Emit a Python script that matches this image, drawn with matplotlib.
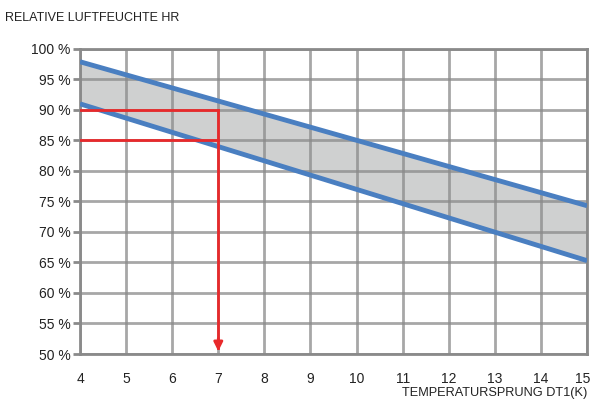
import matplotlib.pyplot as plt
import matplotlib.transforms as mtransforms
from matplotlib.patches import FancyArrowPatch
import numpy as np

# data
dt = [4, 15]
upper = [97.9, 74.3]
lower = [91.0, 65.3]
hr_marks = [90, 85]
dt_mark = 7
xticks = list(range(4, 16))
yticks = list(range(50, 101, 5))

plt.rcParams['font.family'] = ['Liberation Sans', 'DejaVu Sans']

fig = plt.figure(figsize=(5.9, 4.01), dpi=100)
ax = fig.add_axes([0.1356, 0.1172, 0.8594, 0.7608])

ax.fill_between(dt, lower, upper, color='#cfd0d0', zorder=1)
ax.grid(True, color='#8a8a8a', linewidth=2, alpha=0.75, zorder=2)
ax.set_axisbelow(False)

ax.plot(dt, upper, color='#4a7fc1', linewidth=3.5, zorder=4, solid_capstyle='butt')
ax.plot(dt, lower, color='#4a7fc1', linewidth=3.5, zorder=4, solid_capstyle='butt')

red = '#e8292b'
for v in hr_marks:
    ax.plot([dt[0], dt_mark], [v, v], color=red, linewidth=2, zorder=5)
ax.plot([dt_mark, dt_mark], [hr_marks[0], 51], color=red, linewidth=2, zorder=5)
ax.add_patch(FancyArrowPatch((dt_mark, 53), (dt_mark, 50), arrowstyle='-|>',
                             mutation_scale=13, color=red, linewidth=2, zorder=6))

ax.set_xlim(4, 15)
ax.set_ylim(50, 100)
ax.set_xticks(xticks)
ax.set_yticks(yticks)
ax.set_yticklabels([f'{v} %' for v in yticks])
ax.tick_params(axis='y', length=5, width=2, color='#8a8a8a', labelsize=10, labelcolor='#222222', pad=2)
ax.tick_params(axis='x', length=0, labelsize=10, labelcolor='#222222', pad=13)
for s in ax.spines.values():
    s.set_color('#8a8a8a')
    s.set_linewidth(2)

# nudge the last x label so it stays inside the figure
last = ax.get_xticklabels()[-1]
last.set_transform(last.get_transform() + mtransforms.ScaledTranslation(-4 / 100, 0, fig.dpi_scale_trans))

fig.text(0.008, 0.955, 'RELATIVE LUFTFEUCHTE HR', fontsize=9, color='#222222', va='center')
fig.text(0.995, 0.02, 'TEMPERATURSPRUNG DT1(K)', fontsize=9.2, color='#222222', ha='right', va='center')

fig.savefig('out.png', dpi=100)
